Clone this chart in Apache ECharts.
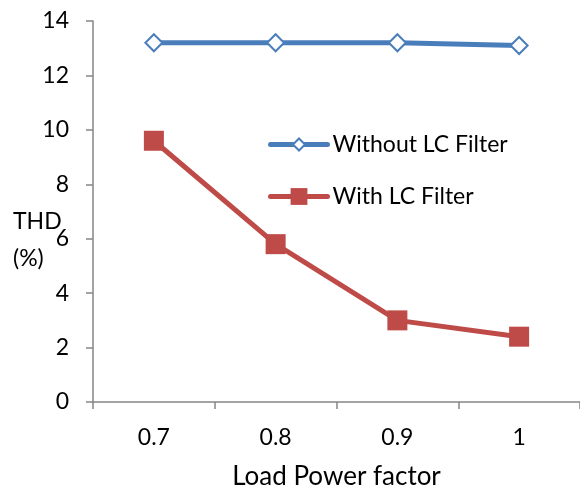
<!DOCTYPE html>
<html>
<head>
<meta charset="utf-8">
<script src="https://cdn.jsdelivr.net/npm/echarts@6/dist/echarts.min.js"></script>
<style>
  html, body { margin: 0; padding: 0; background: #fff; }
  #chart { width: 580px; height: 492px; }
</style>
</head>
<body>
<div id="chart"></div>
<script>
// Load power factor categories and THD readings (%)
const categories = ['0.7', '0.8', '0.9', '1'];
const withoutFilter = [13.2, 13.2, 13.2, 13.1];
const withFilter = [9.6, 5.8, 3.0, 2.4];
const yTicks = { min: 0, max: 14, interval: 2 };

const FONT = 'Lato';
const FS = 23;
const AXIS_GRAY = '#868686';
const BLUE = '#4a7ebb';
const RED = '#be4b48';

const chart = echarts.init(document.getElementById('chart'), null, { renderer: 'canvas' });

// one legend block per series so each icon gets its own marker size
function legendBlock(name, top, itemHeight) {
  return {
    orient: 'vertical',
    left: 268,
    top: top,
    padding: 0,
    itemWidth: 57,
    itemHeight: itemHeight,
    lineStyle: { width: 5, cap: 'round' },
    textStyle: { fontFamily: FONT, fontSize: FS, color: '#000' },
    data: [name]
  };
}

chart.setOption({
  animation: false,
  backgroundColor: '#ffffff',
  textStyle: { fontFamily: FONT },
  grid: { left: 93, right: 0, top: 21, bottom: 90, containLabel: false, outerBoundsMode: 'none' },
  legend: [
    legendBlock('Without LC Filter', 133, 15),
    legendBlock('With LC Filter', 185, 21)
  ],
  xAxis: {
    type: 'category',
    data: categories,
    boundaryGap: true,
    name: 'Load Power factor',
    nameLocation: 'middle',
    nameGap: 62,
    nameTextStyle: { fontFamily: FONT, fontSize: 26, color: '#000' },
    axisLine: { lineStyle: { color: AXIS_GRAY, width: 1.5 } },
    axisTick: { show: true, length: 7, alignWithLabel: false, lineStyle: { color: AXIS_GRAY, width: 1.5 } },
    axisLabel: { margin: 24, fontFamily: FONT, fontSize: FS, color: '#000' }
  },
  yAxis: {
    type: 'value',
    min: yTicks.min,
    max: yTicks.max,
    interval: yTicks.interval,
    splitLine: { show: false },
    axisLine: { show: true, lineStyle: { color: AXIS_GRAY, width: 1.5 } },
    axisTick: { show: true, length: 7, lineStyle: { color: AXIS_GRAY, width: 1.5 } },
    axisLabel: { margin: 24, fontFamily: FONT, fontSize: FS, color: '#000' }
  },
  graphic: [
    {
      type: 'text',
      left: 13,
      top: 203,
      style: {
        text: 'THD\n(%)',
        fontFamily: FONT,
        fontSize: FS,
        lineHeight: 37,
        fill: '#000'
      }
    }
  ],
  series: [
    {
      name: 'Without LC Filter',
      type: 'line',
      data: withoutFilter,
      symbol: 'diamond',
      symbolSize: 17,
      lineStyle: { color: BLUE, width: 5, cap: 'round' },
      itemStyle: { color: '#ffffff', borderColor: BLUE, borderWidth: 2 },
      z: 3
    },
    {
      name: 'With LC Filter',
      type: 'line',
      data: withFilter,
      symbol: 'rect',
      symbolSize: 20,
      lineStyle: { color: RED, width: 5, cap: 'round' },
      itemStyle: { color: RED, borderColor: RED, borderWidth: 0 },
      z: 2
    }
  ]
});
</script>
</body>
</html>
